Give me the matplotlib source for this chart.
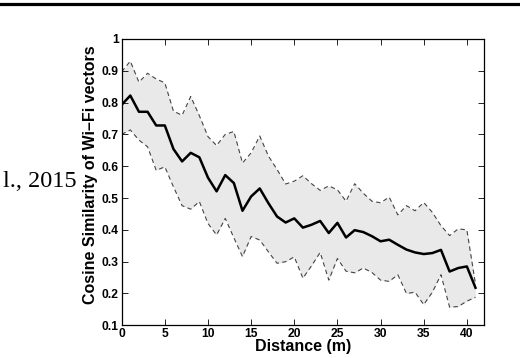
import matplotlib
matplotlib.use("Agg")
import matplotlib.pyplot as plt
from matplotlib.lines import Line2D

# Distance (m) and cosine similarity: mean with upper / lower envelope
distance = list(range(42))
sim_mean = [0.793, 0.822, 0.771, 0.771, 0.728, 0.728, 0.654, 0.615, 0.642, 0.628,
            0.564, 0.521, 0.572, 0.547, 0.460, 0.505, 0.530, 0.484, 0.442, 0.423,
            0.436, 0.407, 0.416, 0.428, 0.390, 0.422, 0.376, 0.399, 0.393, 0.380,
            0.364, 0.369, 0.353, 0.338, 0.329, 0.324, 0.327, 0.337, 0.269, 0.280,
            0.285, 0.218]
sim_upper = [0.897, 0.930, 0.864, 0.892, 0.874, 0.862, 0.773, 0.760, 0.819, 0.759,
             0.693, 0.665, 0.700, 0.709, 0.610, 0.642, 0.695, 0.632, 0.590, 0.544,
             0.553, 0.570, 0.545, 0.524, 0.538, 0.526, 0.490, 0.545, 0.515, 0.490,
             0.485, 0.503, 0.447, 0.476, 0.460, 0.486, 0.455, 0.413, 0.382, 0.403,
             0.400, 0.230]
sim_lower = [0.700, 0.714, 0.682, 0.661, 0.587, 0.598, 0.535, 0.476, 0.465, 0.489,
             0.420, 0.384, 0.436, 0.375, 0.316, 0.379, 0.368, 0.331, 0.295, 0.300,
             0.315, 0.248, 0.287, 0.329, 0.242, 0.310, 0.270, 0.265, 0.280, 0.266,
             0.242, 0.238, 0.259, 0.200, 0.204, 0.165, 0.204, 0.259, 0.157, 0.159,
             0.176, 0.188]

xticks = [0, 5, 10, 15, 20, 25, 30, 35, 40]
yticks = [0.1, 0.2, 0.3, 0.4, 0.5, 0.6, 0.7, 0.8, 0.9, 1.0]
ytick_labels = ["0.1", "0.2", "0.3", "0.4", "0.5", "0.6", "0.7", "0.8", "0.9", "1"]

plt.rcParams["font.family"] = ["Liberation Sans", "DejaVu Sans"]
plt.rcParams["font.weight"] = "bold"

fig = plt.figure(figsize=(5.2, 3.58), dpi=100)
ax = fig.add_axes([0.234, 0.0913, 0.697, 0.800])

# shaded band between the envelopes
ax.fill_between(distance, sim_lower, sim_upper, color="#e9e9e9", lw=0)
ax.plot(distance, sim_upper, color="#444444", lw=0.8, ls=(0, (4, 3)))
ax.plot(distance, sim_lower, color="#444444", lw=0.8, ls=(0, (4, 3)))
ax.plot(distance, sim_mean, color="black", lw=1.8)

ax.set_xlim(0, 42)
ax.set_ylim(0.1, 1.0)
ax.set_xticks(xticks)
ax.set_yticks(yticks)
ax.set_yticklabels(ytick_labels)
ax.tick_params(direction="in", length=4, width=0.6, top=True, right=True,
               labelsize=8.7, pad=2)
for s in ax.spines.values():
    s.set_linewidth(0.9)

ax.set_xlabel("Distance (m)", fontsize=11.5, fontweight="bold", labelpad=-1)
ax.set_ylabel("Cosine Similarity of Wi–Fi vectors", fontsize=11.5,
              fontweight="bold")
ax.yaxis.set_label_coords(-0.066, 0.525)

# leftover bits of the surrounding page
fig.text(77 / 520, 1 - 187 / 358, "l., 2015", family="Liberation Serif",
         fontweight="normal", fontsize=17.5, ha="right", va="baseline")
fig.add_artist(Line2D([0, 1], [1 - 3.5 / 358, 1 - 3.5 / 358], color="black",
                      lw=2.3, transform=fig.transFigure))

fig.savefig("out.png", dpi=100)
